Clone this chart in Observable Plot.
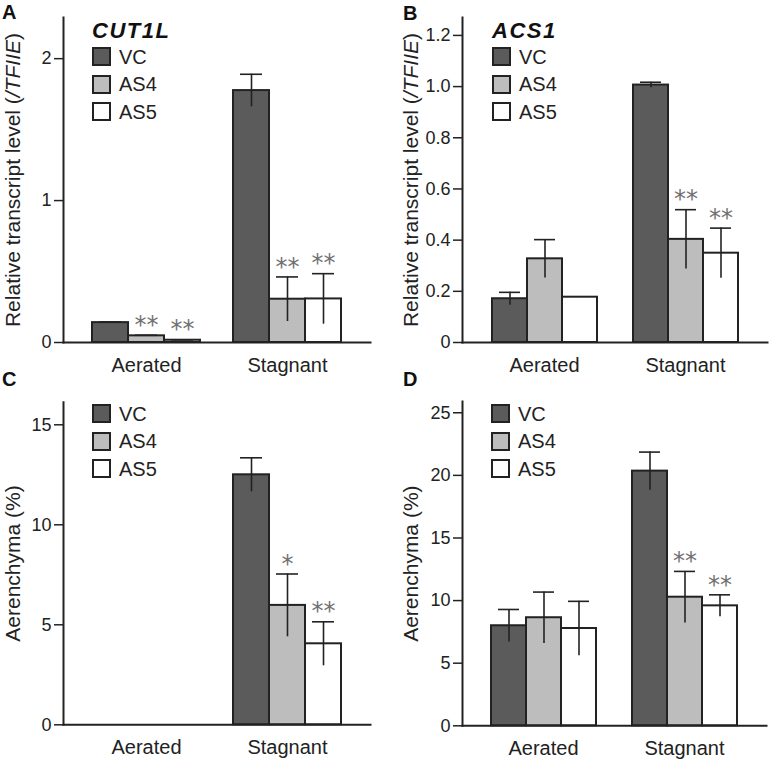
<!DOCTYPE html>
<html><head><meta charset="utf-8">
<script src="https://cdn.jsdelivr.net/npm/d3@7"></script>
<script src="https://cdn.jsdelivr.net/npm/@observablehq/plot@0.6"></script>
<style>
body{margin:0;background:#fff;font-family:"Liberation Sans",Arial,sans-serif;}
#fig{position:relative;width:771px;height:760px;overflow:hidden;background:#fff;}
.panel{position:absolute;}
.panel svg{max-width:none;display:block;}
.panel svg.overlay{position:absolute;left:0;top:0;}
.letter{position:absolute;font-weight:bold;font-size:20px;line-height:20px;color:#111;z-index:5;}
.ltitle{position:absolute;font-weight:bold;font-style:italic;font-size:22px;line-height:22px;letter-spacing:1.5px;color:#111;z-index:5;}
.legend{position:absolute;z-index:5;}
.row{display:flex;align-items:center;height:19px;margin-bottom:8.5px;}
.sw{width:19px;height:19px;box-sizing:border-box;border:2px solid #222;}
.lab{margin-left:8px;font-size:20px;line-height:20px;color:#222;}
</style>
</head><body>
<div id="fig"></div>
<script>
// ---- categories ----
const conditions = ["Aerated", "Stagnant"];
const genotypes = ["VC", "AS4", "AS5"];
const genotypeFills = ["#5b5b5b", "#bdbdbd", "#ffffff"];

// ---- Panel A: CUT1L relative transcript level (Aerated VC, AS4, AS5, Stagnant VC, AS4, AS5) ----
const cut1lMean = [0.14, 0.047, 0.016, 1.775, 0.305, 0.307];
const cut1lSE   = [0.005, 0.004, 0.003, 0.115, 0.157, 0.178];
const cut1lSig  = ["", "**", "**", "", "**", "**"];
const cut1lTicks = [0, 1, 2];

// ---- Panel B: ACS1 relative transcript level ----
const acs1Mean = [0.171, 0.327, 0.177, 1.006, 0.403, 0.349];
const acs1SE   = [0.025, 0.075, 0, 0.011, 0.116, 0.098];
const acs1Sig  = ["", "", "", "", "**", "**"];
const acs1Ticks = [0, 0.2, 0.4, 0.6, 0.8, 1.0, 1.2];

// ---- Panel C: Aerenchyma (%) ----
const aerCMean = [0, 0, 0, 12.5, 5.97, 4.05];
const aerCSE   = [0, 0, 0, 0.85, 1.57, 1.1];
const aerCSig  = ["", "", "", "", "*", "**"];
const aerCTicks = [0, 5, 10, 15];

// ---- Panel D: Aerenchyma (%) ----
const aerDMean = [7.99, 8.63, 7.77, 20.34, 10.27, 9.58];
const aerDSE   = [1.3, 2.05, 2.17, 1.52, 2.06, 0.88];
const aerDSig  = ["", "", "", "", "**", "**"];
const aerDTicks = [0, 5, 10, 15, 20, 25];

const FONT = '"Liberation Sans", Arial, Helvetica, sans-serif';

function rowsOf(mean, se, sig) {
  return mean.map((v, i) => ({
    cond: conditions[Math.floor(i / genotypes.length)],
    geno: genotypes[i % genotypes.length],
    v, se: se[i], sig: sig[i]
  }));
}

function panel(o) {
  const rows = rowsOf(o.mean, o.se, o.sig);
  const bars = rows.filter(d => d.v > 0);
  const errs = rows.filter(d => d.se > 0);
  const stars = rows.filter(d => d.sig);
  const common = {
    width: o.width, height: 380,
    marginLeft: o.ml, marginRight: o.mr, marginTop: o.mt, marginBottom: o.mb,
    style: {fontFamily: FONT, fontSize: "18px", color: "#222", background: "transparent", overflow: "visible"}
  };
  const plot = Plot.plot({
    ...common,
    fx: {domain: conditions, paddingInner: o.pi, paddingOuter: o.po, label: null},
    x: {domain: genotypes, padding: 0, axis: null},
    y: {domain: [0, o.ymax], axis: null},
    color: {domain: genotypes, range: genotypeFills},
    marks: [
      Plot.barY(bars, {fx: "cond", x: "geno", y: "v", fill: "geno", stroke: "#222", strokeWidth: 2}),
      Plot.ruleX(errs, {fx: "cond", x: "geno", y1: d => d.v - d.se, y2: d => d.v + d.se, stroke: "#222", strokeWidth: 1.6}),
      Plot.tickY(errs, {fx: "cond", x: "geno", y: d => d.v + d.se, stroke: "#222", strokeWidth: 1.6, insetLeft: 7, insetRight: 7}),
      Plot.text(stars, {fx: "cond", x: "geno", y: d => d.v + d.se, text: "sig", dy: -10, fontFamily: "DejaVu Sans", fontSize: 24, fill: "#707070"}),
      Plot.axisFx({anchor: "bottom", tickSize: 0, tickPadding: 15, fontSize: 20, label: null})
    ]
  });
  // overlay: y axis + axis lines spanning the whole plot area (same y scale)
  const axes = Plot.plot({
    ...common,
    y: {domain: [0, o.ymax]},
    marks: [
      Plot.frame({anchor: "left", stroke: "#222", strokeWidth: 2}),
      Plot.frame({anchor: "bottom", stroke: "#222", strokeWidth: 2}),
      Plot.axisY(o.ticks, {tickFormat: o.fmt, tickSize: 9, tickPadding: 3, strokeWidth: 1.5, fontSize: 18,
        label: o.label, labelAnchor: "center", labelOffset: o.lo, labelArrow: "none"})
    ]
  });
  axes.classList.add("overlay");
  d3.select(axes).selectAll("text").each(function () {
    if (this.textContent === o.label) {
      const t = d3.select(this).style("font-size", "21px");
      if (o.italic) {
        const [pre, post] = o.label.split(o.italic);
        t.text(null);
        t.append("tspan").text(pre);
        t.append("tspan").style("font-style", "italic").text(o.italic);
        t.append("tspan").text(post);
      }
    }
  });
  const div = document.createElement("div");
  div.className = "panel";
  div.style.left = o.left + "px";
  div.style.top = o.top + "px";
  div.style.width = o.width + "px";
  div.style.height = "380px";
  div.appendChild(plot);
  div.appendChild(axes);
  return div;
}

function legend(left, top, title) {
  const frag = document.createDocumentFragment();
  if (title) {
    const t = document.createElement("div");
    t.className = "ltitle";
    t.style.left = left + "px";
    t.style.top = (top - 27) + "px";
    t.textContent = title;
    frag.appendChild(t);
  }
  const lg = document.createElement("div");
  lg.className = "legend";
  lg.style.left = left + "px";
  lg.style.top = top + "px";
  genotypes.forEach((g, i) => {
    const r = document.createElement("div");
    r.className = "row";
    const s = document.createElement("div");
    s.className = "sw";
    s.style.background = genotypeFills[i];
    const l = document.createElement("span");
    l.className = "lab";
    l.textContent = g;
    r.appendChild(s); r.appendChild(l);
    lg.appendChild(r);
  });
  frag.appendChild(lg);
  return frag;
}

function letter(ch, left, top) {
  const d = document.createElement("div");
  d.className = "letter";
  d.style.left = left + "px";
  d.style.top = top + "px";
  d.textContent = ch;
  return d;
}

const fig = document.getElementById("fig");
const fmt1 = d => d === 0 ? "0" : d.toFixed(1);
const fmt0 = d => String(d);
const transLabel = "Relative transcript level (/TFIIE)";
const aerLabel = "Aerenchyma (%)";

fig.appendChild(panel({left: 0, top: 0, width: 385, ml: 63, mr: 15, mt: 17, mb: 38, pi: 0.237, po: 0.203,
  ymax: 2.29, ticks: cut1lTicks, fmt: fmt0, mean: cut1lMean, se: cut1lSE, sig: cut1lSig,
  label: transLabel, italic: "/TFIIE", lo: 58}));
fig.appendChild(panel({left: 385, top: 0, width: 386, ml: 77, mr: 4, mt: 17, mb: 38, pi: 0.246, po: 0.197,
  ymax: 1.27, ticks: acs1Ticks, fmt: fmt1, mean: acs1Mean, se: acs1SE, sig: acs1Sig,
  label: transLabel, italic: "/TFIIE", lo: 59}));
fig.appendChild(panel({left: 0, top: 380, width: 385, ml: 63, mr: 15, mt: 21.7, mb: 35.7, pi: 0.237, po: 0.203,
  ymax: 16.13, ticks: aerCTicks, fmt: fmt0, mean: aerCMean, se: aerCSE, sig: aerCSig,
  label: aerLabel, lo: 58}));
fig.appendChild(panel({left: 385, top: 380, width: 386, ml: 77, mr: 5, mt: 21, mb: 34.7, pi: 0.246, po: 0.197,
  ymax: 25.9, ticks: aerDTicks, fmt: fmt0, mean: aerDMean, se: aerDSE, sig: aerDSig,
  label: aerLabel, lo: 59}));

fig.appendChild(legend(92, 47, "CUT1L"));
fig.appendChild(legend(492, 47, "ACS1"));
fig.appendChild(legend(92, 404, null));
fig.appendChild(legend(491, 404, null));

fig.appendChild(letter("A", 2, 2));
fig.appendChild(letter("B", 403, 3));
fig.appendChild(letter("C", 2, 369));
fig.appendChild(letter("D", 403, 369));
</script>
</body></html>
